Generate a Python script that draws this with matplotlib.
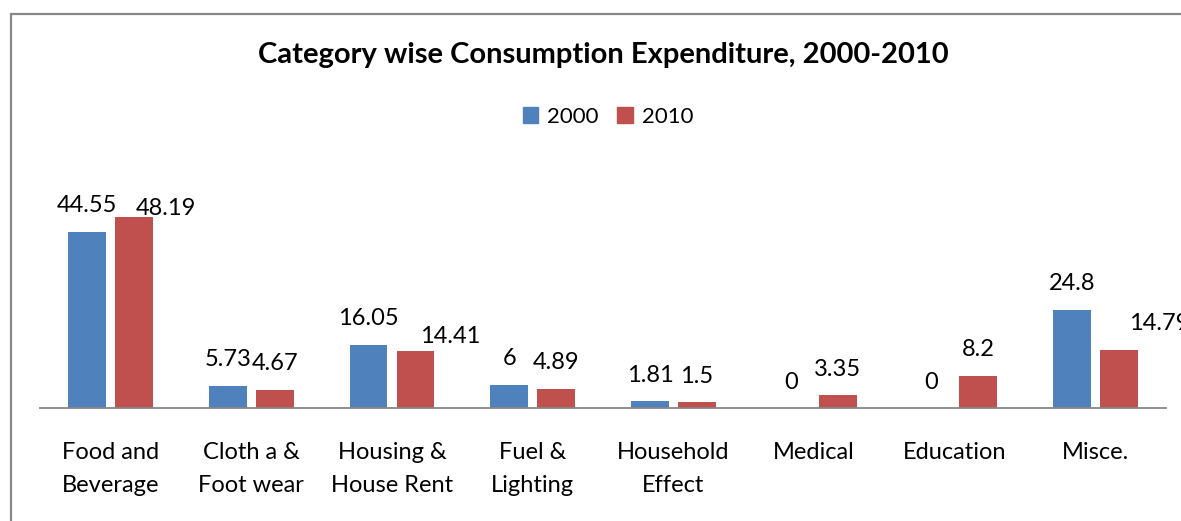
import matplotlib
matplotlib.use("Agg")
import matplotlib.pyplot as plt
from matplotlib.patches import Rectangle, Patch

# data
categories = ["Food and\nBeverage", "Cloth a &\nFoot wear", "Housing &\nHouse Rent",
              "Fuel &\nLighting", "Household\nEffect", "Medical", "Education", "Misce."]
vals_2000 = [44.55, 5.73, 16.05, 6, 1.81, 0, 0, 24.8]
vals_2010 = [48.19, 4.67, 14.41, 4.89, 1.5, 3.35, 8.2, 14.79]
labels_2000 = ["44.55", "5.73", "16.05", "6", "1.81", "0", "0", "24.8"]
labels_2010 = ["48.19", "4.67", "14.41", "4.89", "1.5", "3.35", "8.2", "14.79"]

# label nudges (pixels) for the few labels that sit off-centre in the original
nudge_2010 = [(32, 8.5), (0, 26), (35, 15), (0, 26), (0, 26), (0, 26), (0, 26), (40, 26)]

BLUE = "#4F81BD"
RED = "#C0504D"
GRAY = "#878787"
W, H = 1181, 521

plt.rcParams['font.family'] = ['Lato', 'DejaVu Sans']

fig = plt.figure(figsize=(W / 100, H / 100), dpi=100)
ax = fig.add_axes([40.3 / W, (H - 408.3) / H, 1125.6 / W, 55 * 3.965 / H])

x = list(range(len(categories)))
bw = 0.268
off = 0.167
b1 = ax.bar([i - off for i in x], vals_2000, bw, color=BLUE, label="2000")
b2 = ax.bar([i + off for i in x], vals_2010, bw, color=RED, label="2010")

for i, (v, s) in enumerate(zip(vals_2000, labels_2000)):
    ax.annotate(s, (i - off, v), xytext=(0, 26), textcoords="offset pixels",
                ha="center", va="center", fontsize=17, annotation_clip=False)
for i, (v, s) in enumerate(zip(vals_2010, labels_2010)):
    dx, dy = nudge_2010[i]
    ax.annotate(s, (i + off, v), xytext=(dx, dy), textcoords="offset pixels",
                ha="center", va="center", fontsize=17, annotation_clip=False)

ax.set_xlim(-0.5, len(categories) - 0.5)
ax.set_ylim(0, 55)
ax.set_yticks([])
ax.set_xticks(x)
ax.set_xticklabels(categories, fontsize=17, linespacing=1.7)
ax.tick_params(axis="x", length=0, pad=24.5)
for side in ["top", "right", "left"]:
    ax.spines[side].set_visible(False)
ax.spines["bottom"].set_color(GRAY)
ax.spines["bottom"].set_linewidth(1.3)

fig.text(603 / W, 1 - 63.3 / H, "Category wise Consumption Expenditure, 2000-2010",
         ha="center", va="baseline", fontsize=21, fontweight="bold")

fig.legend(handles=[Patch(color=BLUE, label="2000"), Patch(color=RED, label="2010")],
           loc="center", bbox_to_anchor=(608 / W, 1 - 117 / H), ncol=2, frameon=False,
           fontsize=16, handlelength=0.7, handleheight=0.7, handletextpad=0.4,
           columnspacing=0.85)

# outer chart border (runs off the right and bottom edges)
fig.patches.append(Rectangle((11 / W, -0.1), 1.2, 1 - 14 / H + 0.1, transform=fig.transFigure,
                             fill=False, edgecolor=GRAY, linewidth=1.6))

fig.savefig("out.png", dpi=100)
